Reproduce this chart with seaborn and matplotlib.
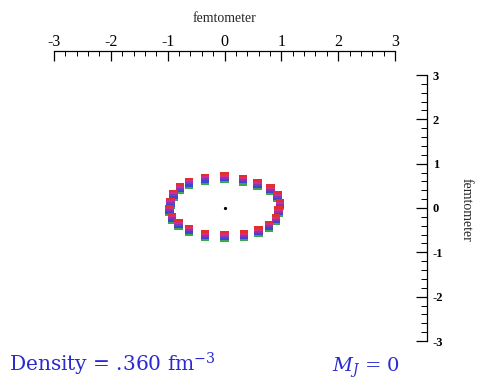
import numpy as np
import pandas as pd
import matplotlib
matplotlib.use("Agg")
import matplotlib.pyplot as plt
import seaborn as sns

# segment centres (femtometer), clockwise from the top
seg_x = [0.0, 0.32, 0.58, 0.81, 0.93, 0.97, 0.95, 0.90, 0.78, 0.60, 0.34,
         0.0, -0.34, -0.62, -0.81, -0.92, -0.97, -0.95, -0.90, -0.78, -0.62, -0.34]
seg_y = [0.68, 0.63, 0.52, 0.41, 0.25, 0.07, -0.09, -0.27, -0.41, -0.54, -0.63,
         -0.65, -0.63, -0.50, -0.38, -0.23, -0.05, 0.11, 0.29, 0.43, 0.56, 0.65]
layers = ["green", "blue", "purple", "magenta", "red"]
layer_colors = ["#3aa84a", "#3a48d0", "#8c34b4", "#d22c8c", "#e0302c"]
ticks = [-3, -2, -1, 0, 1, 2, 3]
density_text = "Density = .360 fm$^{-3}$"
mj_text = "$M_J$ = 0"

sns.set_style("white")
plt.rcParams["font.family"] = ["Liberation Serif", "DejaVu Serif"]
plt.rcParams["mathtext.fontset"] = "dejavuserif"
plt.rcParams["axes.unicode_minus"] = False

W, H = 482, 380
fig = plt.figure(figsize=(W / 100, H / 100), dpi=100)
ax = fig.add_axes([54 / W, 1 - 341 / H, (427 - 54) / W, (341 - 75) / H])

# stack the coloured layers around each segment centre
offset = 0.048
rows = []
for i, name in enumerate(layers):
    for x, y in zip(seg_x, seg_y):
        rows.append({"x": x, "y": y + (i - 2) * offset, "layer": name})
df = pd.DataFrame(rows)

rect = [(-1, -0.3), (1, -0.3), (1, 0.3), (-1, 0.3), (-1, -0.3)]
sns.scatterplot(data=df, x="x", y="y", hue="layer", hue_order=layers,
                palette=layer_colors, marker=rect, s=36, linewidth=0,
                legend=False, ax=ax)
ax.plot([0], [0], marker="o", color="black", markersize=1.3)
ax.set_xlabel("")
ax.set_ylabel("")

ax.set_xlim(-3, 3 + (427 - 395) / 57)
ax.set_ylim(-3, 3)

for s in ["left", "bottom"]:
    ax.spines[s].set_visible(False)
ax.spines["top"].set_bounds(-3, 3)
ax.spines["top"].set_position(("outward", 24 * 0.72))
ax.spines["right"].set_bounds(-3, 3)
for s in ["top", "right"]:
    ax.spines[s].set_color("black")
    ax.spines[s].set_linewidth(0.9)

ax.xaxis.set_ticks_position("top")
ax.set_xticks(ticks)
ax.set_xticks(np.round(np.arange(-3, 3.01, 0.2), 1), minor=True)
ax.tick_params(axis="x", which="major", direction="in", length=7, width=0.9,
               labelsize=11.5, pad=1, colors="black")
ax.tick_params(axis="x", which="minor", direction="in", length=3.5, width=0.7,
               colors="black")

ax.yaxis.set_ticks_position("right")
ax.set_yticks(ticks)
ax.set_yticks(np.round(np.arange(-3, 3.01, 0.2), 1), minor=True)
ax.tick_params(axis="y", which="major", direction="in", length=8, width=0.9,
               labelsize=9, pad=4, colors="black")
ax.tick_params(axis="y", which="minor", direction="in", length=4, width=0.7,
               colors="black")
for lab in ax.get_yticklabels():
    lab.set_fontweight("bold")

fig.text(224 / W, 1 - 18 / H, "femtometer", fontsize=10,
         ha="center", va="center")
fig.text(466 / W, 1 - 210 / H, "femtometer", rotation=270, fontsize=10,
         ha="center", va="center")

fig.text(9 / W, 1 - 372 / H, density_text, color="#2a2ad0", fontsize=14.5,
         family="DejaVu Serif", ha="left", va="baseline")
fig.text(332 / W, 1 - 372 / H, mj_text, color="#2a2ad0", fontsize=14,
         family="DejaVu Serif", ha="left", va="baseline")

fig.savefig("out.png", dpi=100)
